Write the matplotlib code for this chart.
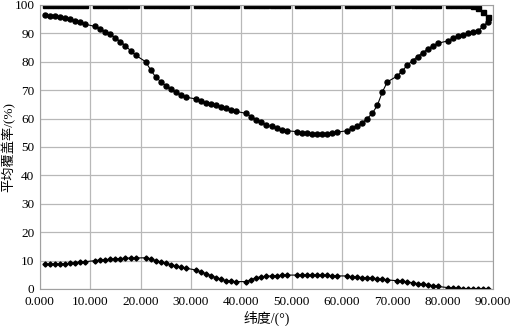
import numpy as np
import matplotlib
matplotlib.use('Agg')
import matplotlib.pyplot as plt

plt.rcParams['font.family'] = ['Liberation Serif', 'Noto Sans CJK SC']

# latitude samples (multiples of 10 missing in the source data)
lat = [1, 2, 3, 4, 5, 6, 7, 8, 9,
       11, 12, 13, 14, 15, 16, 17, 18, 19,
       21, 22, 23, 24, 25, 26, 27, 28, 29,
       31, 32, 33, 34, 35, 36, 37, 38, 39,
       41, 42, 43, 44, 45, 46, 47, 48, 49,
       51, 52, 53, 54, 55, 56, 57, 58, 59,
       61, 62, 63, 64, 65, 66, 67, 68, 69,
       71, 72, 73, 74, 75, 76, 77, 78, 79,
       81, 82, 83, 84, 85, 86, 87, 88, 89]

top = [100] * 77 + [99.6, 98.8, 97.4, 95.9]

mid = [96.3, 96.2, 96.0, 95.7, 95.3, 94.9, 94.4, 93.9, 93.2,
       92.4, 91.5, 90.6, 89.7, 88.4, 87.1, 85.6, 83.9, 82.3,
       80.0, 77.1, 74.6, 73.0, 71.6, 70.3, 69.2, 68.3, 67.5,
       66.9, 66.2, 65.4, 65.0, 64.7, 64.2, 63.6, 63.0, 62.5,
       61.8, 60.7, 59.6, 58.7, 57.7, 57.2, 56.6, 56.0, 55.7,
       55.4, 55.0, 54.8, 54.6, 54.6, 54.6, 54.6, 55.0, 55.2,
       55.7, 56.6, 57.5, 58.5, 60.0, 61.8, 64.6, 69.3, 72.9,
       75.0, 76.9, 78.8, 80.4, 81.8, 83.2, 84.4, 85.6, 86.5,
       87.3, 88.3, 89.1, 89.4, 90.0, 90.4, 90.9, 92.4, 94.1]

low = [8.7, 8.7, 8.8, 8.8, 8.9, 9.0, 9.3, 9.5, 9.6,
       10.0, 10.2, 10.3, 10.5, 10.6, 10.7, 10.8, 10.9, 10.9,
       11.0, 10.6, 10.0, 9.5, 9.0, 8.6, 8.1, 7.6, 7.3,
       6.7, 6.0, 5.4, 4.7, 4.0, 3.4, 2.9, 2.7, 2.6,
       2.6, 3.3, 4.0, 4.3, 4.5, 4.6, 4.7, 4.8, 4.9,
       4.9, 4.9, 4.9, 4.9, 4.9, 4.8, 4.8, 4.7, 4.6,
       4.6, 4.3, 4.2, 4.0, 3.9, 3.8, 3.5, 3.4, 3.2,
       2.9, 2.7, 2.5, 2.2, 1.9, 1.6, 1.4, 1.2, 0.9,
       0.5, 0.3, 0.2, 0.1, 0.1, 0.1, 0.1, 0.1, 0.1]

xticks = np.arange(0, 91, 10)
xticklabels = ['%d.000' % v for v in xticks]

fig = plt.figure(figsize=(5.11, 3.26), dpi=100)
ax = fig.add_axes([0.078, 0.1135, 0.887, 0.8715])

ax.plot(lat, top, color='black', linewidth=0.8, marker='s', markersize=3.6)
ax.plot(lat, mid, color='black', linewidth=0.8, marker='o', markersize=3.6)
ax.plot(lat, low, color='black', linewidth=0.8, marker='D', markersize=2.6)

ax.set_xlim(0, 90)
ax.set_ylim(0, 100)
ax.set_xticks(xticks)
ax.set_xticklabels(xticklabels)
ax.set_yticks(np.arange(0, 101, 10))
ax.tick_params(length=0, labelsize=9.5)
ax.tick_params(axis='x', pad=5)
ax.tick_params(axis='y', pad=4)
ax.grid(True, color='#b8b8b8', linewidth=0.9)
ax.set_axisbelow(True)
for s in ax.spines.values():
    s.set_color('#a0a0a0')

ax.set_xlabel('纬度/(°)', fontsize=10, labelpad=2)
ax.set_ylabel('平均覆盖率/(%)', fontsize=9.5)
ax.yaxis.set_label_coords(-0.053, 0.5)

fig.savefig('out.png', dpi=100)
